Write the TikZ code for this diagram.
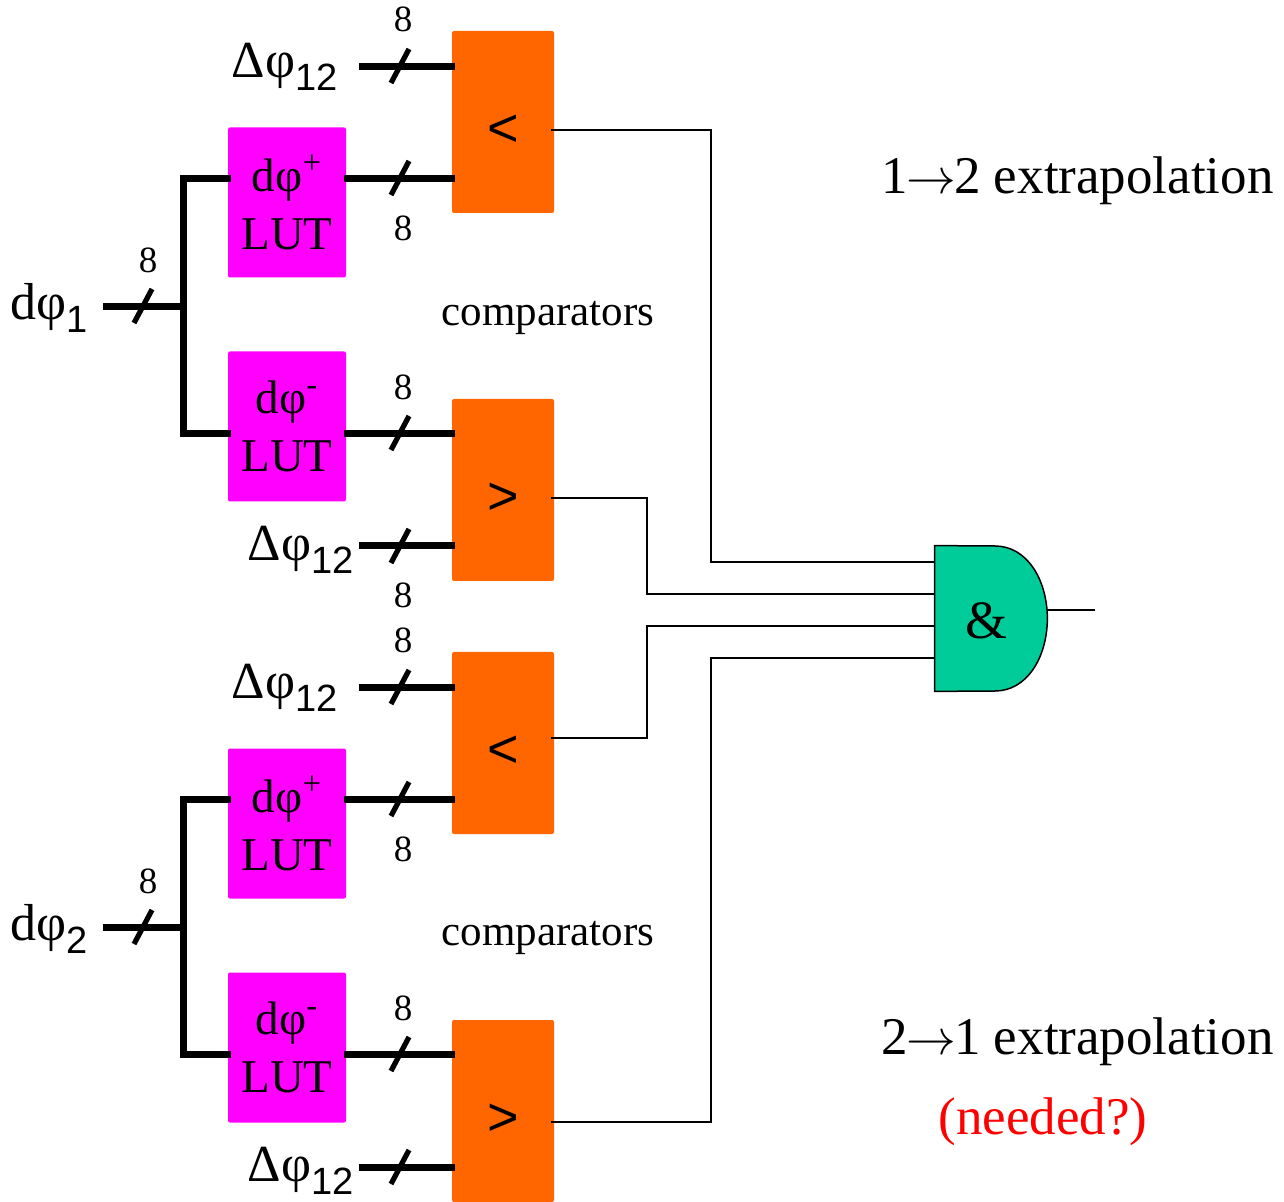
\documentclass[tikz,border=0pt]{standalone}
\usepackage{fontspec}
\setmainfont{Liberation Serif}
\setsansfont{Liberation Sans}
\definecolor{lutmagenta}{HTML}{FF00FF}
\definecolor{cmporange}{HTML}{FF6600}
\definecolor{gategreen}{HTML}{00CC99}
\newcommand{\subsans}[1]{\raisebox{-6.5pt}{\fontsize{19}{19}\sffamily #1}}
\newcommand{\arrowglyph}{\kern-1pt$\rightarrow$\kern-1pt}
\tikzset{
    lutbox/.style={fill=lutmagenta, rounded corners=1pt, minimum width=59pt, minimum height=75pt, inner sep=0pt,
        align=center, font=\fontsize{23.5}{29}\selectfont},
    cmpbox/.style={fill=cmporange, rounded corners=1pt, minimum width=51pt, minimum height=91pt, inner sep=0pt},
    cmpsign/.style={font=\fontsize{27}{27}\sffamily, inner sep=0pt},
    bus/.style={line width=3.5pt},
    slash/.style={line width=2.6pt},
    wire/.style={line width=0.75pt},
    bits/.style={font=\fontsize{18.5}{18.5}\selectfont, inner sep=0pt},
    siglabel/.style={font=\fontsize{26}{26}\selectfont, inner sep=0pt},
    note/.style={font=\fontsize{21.5}{21.5}\selectfont, inner sep=0pt},
    title/.style={font=\fontsize{26.5}{26.5}\selectfont, inner sep=0pt}
}
\begin{document}
\begin{tikzpicture}[x=0.5pt, y=-0.5pt]
    \useasboundingbox (0,0) rectangle (1284,1202);

    % LUT boxes and comparators of the upper half
    \node[lutbox] (lutplusA) at (287,202.5) {dφ\textsuperscript{+}\\LUT};
    \node[lutbox] (lutminusA) at (287,426.5) {dφ\textsuperscript{-}\\LUT};
    \node[cmpbox] (cmpltA) at (503,122) {};
    \node[cmpbox] (cmpgtA) at (503,490) {};
    \node[cmpsign] (signltA) at (503,131) {<};
    \node[cmpsign] (signgtA) at (503,499) {>};

    % LUT boxes and comparators of the lower half
    \node[lutbox] (lutplusB) at (287,823.5) {dφ\textsuperscript{+}\\LUT};
    \node[lutbox] (lutminusB) at (287,1047.5) {dφ\textsuperscript{-}\\LUT};
    \node[cmpbox] (cmpltB) at (503,743) {};
    \node[cmpbox] (cmpgtB) at (503,1111) {};
    \node[cmpsign] (signltB) at (503,752) {<};
    \node[cmpsign] (signgtB) at (503,1120) {>};

    % Signal names
    \node[siglabel, anchor=east] (phiA) at (88,308) {dφ\subsans{1}};
    \node[siglabel, anchor=east] (phiB) at (88,929) {dφ\subsans{2}};
    \node[siglabel, anchor=east] (deltaA) at (338,67) {Δφ\subsans{12}};
    \node[siglabel, anchor=east] (deltaB) at (354,550) {Δφ\subsans{12}};
    \node[siglabel, anchor=east] (deltaC) at (338,688) {Δφ\subsans{12}};
    \node[siglabel, anchor=east] (deltaD) at (354,1171) {Δφ\subsans{12}};

    % Free ends of the buses
    \coordinate (forkA) at (183,306.5);
    \coordinate (forkB) at (183,927.5);
    \coordinate (cornerplusA) at (183,178.5);
    \coordinate (cornerminusA) at (183,433.5);
    \coordinate (cornerplusB) at (183,799);
    \coordinate (cornerminusB) at (183,1054.5);
    \coordinate (startA) at (103,306.5);
    \coordinate (startB) at (103,927.5);
    \coordinate (inltA) at (359,66.5);
    \coordinate (ingtA) at (359,546);
    \coordinate (inltB) at (359,687);
    \coordinate (ingtB) at (359,1167);

    % Thick buses of the upper half
    \draw[bus] (startA) -- (forkA);
    \draw[bus, line cap=rect] (cornerplusA) -- (cornerminusA);
    \draw[bus] (cornerplusA) -- ([xshift=1.5pt]lutplusA.west |- cornerplusA);
    \draw[bus] (cornerminusA) -- ([xshift=1.5pt]lutminusA.west |- cornerminusA);
    \draw[bus] ([xshift=-1pt]lutplusA.east |- cornerplusA) -- ([xshift=1.5pt]cmpltA.west |- cornerplusA);
    \draw[bus] ([xshift=-1pt]lutminusA.east |- cornerminusA) -- ([xshift=1.5pt]cmpgtA.west |- cornerminusA);
    \draw[bus] (inltA) -- ([xshift=1.5pt]cmpltA.west |- inltA);
    \draw[bus] (ingtA) -- ([xshift=1.5pt]cmpgtA.west |- ingtA);

    % Thick buses of the lower half
    \draw[bus] (startB) -- (forkB);
    \draw[bus, line cap=rect] (cornerplusB) -- (cornerminusB);
    \draw[bus] (cornerplusB) -- ([xshift=1.5pt]lutplusB.west |- cornerplusB);
    \draw[bus] (cornerminusB) -- ([xshift=1.5pt]lutminusB.west |- cornerminusB);
    \draw[bus] ([xshift=-1pt]lutplusB.east |- cornerplusB) -- ([xshift=1.5pt]cmpltB.west |- cornerplusB);
    \draw[bus] ([xshift=-1pt]lutminusB.east |- cornerminusB) -- ([xshift=1.5pt]cmpgtB.west |- cornerminusB);
    \draw[bus] (inltB) -- ([xshift=1.5pt]cmpltB.west |- inltB);
    \draw[bus] (ingtB) -- ([xshift=1.5pt]cmpgtB.west |- ingtB);

    % Slashes across the buses
    \draw[slash] (134,323) -- (152,289);
    \draw[slash] (391,83) -- (409,49);
    \draw[slash] (391,195) -- (409,161);
    \draw[slash] (391,450) -- (409,416);
    \draw[slash] (391,563) -- (409,529);
    \draw[slash] (134,944) -- (152,910);
    \draw[slash] (391,704) -- (409,670);
    \draw[slash] (391,816) -- (409,782);
    \draw[slash] (391,1071) -- (409,1037);
    \draw[slash] (391,1184) -- (409,1150);

    % Bit widths
    \node[bits] (bitsA) at (148,260) {8};
    \node[bits] (bitsB) at (403,19) {8};
    \node[bits] (bitsC) at (403,228) {8};
    \node[bits] (bitsD) at (403,387) {8};
    \node[bits] (bitsE) at (403,595) {8};
    \node[bits] (bitsF) at (148,881) {8};
    \node[bits] (bitsG) at (403,640) {8};
    \node[bits] (bitsH) at (403,849) {8};
    \node[bits] (bitsI) at (403,1008) {8};

    % Gate outline, with an invisible node for its connections
    \node[minimum width=56pt, minimum height=72.5pt, inner sep=0pt] (gate) at (991,618.5) {};
    \draw[wire, fill=gategreen] (gate.north west) -- (995,546)
        .. controls (1026,546) and (1047,578) .. (gate.east)
        .. controls (1047,659) and (1026,691) .. (995,691)
        -- (gate.south west) -- cycle;
    \node[font=\fontsize{27}{27}\selectfont, inner sep=0pt] (amp) at (986,621) {\&};

    % Thin wires into the gate
    \draw[wire] ([xshift=-1.5pt]cmpltA.east |- 0,130) -| (711,562) -- (gate.west |- 0,562);
    \draw[wire] ([xshift=-1.5pt]cmpgtA.east |- 0,498) -| (647,594) -- (gate.west |- 0,594);
    \draw[wire] ([xshift=-1.5pt]cmpltB.east |- 0,738) -| (647,626) -- (gate.west |- 0,626);
    \draw[wire] ([xshift=-1.5pt]cmpgtB.east |- 0,1122) -| (711,658) -- (gate.west |- 0,658);
    \coordinate (gateout) at (1095,610);
    \draw[wire] (gate.east |- gateout) -- (gateout);

    % Captions
    \node[note] (compA) at (548,318) {comparators};
    \node[note] (compB) at (548,938) {comparators};
    \node[title, anchor=east] (extrapA) at (1274,181) {1\arrowglyph 2 extrapolation};
    \node[title, anchor=east] (extrapB) at (1274,1042) {2\arrowglyph 1 extrapolation};
    \node[title, text=red] (needed) at (1043,1122) {(needed?)};

\end{tikzpicture}
\end{document}
